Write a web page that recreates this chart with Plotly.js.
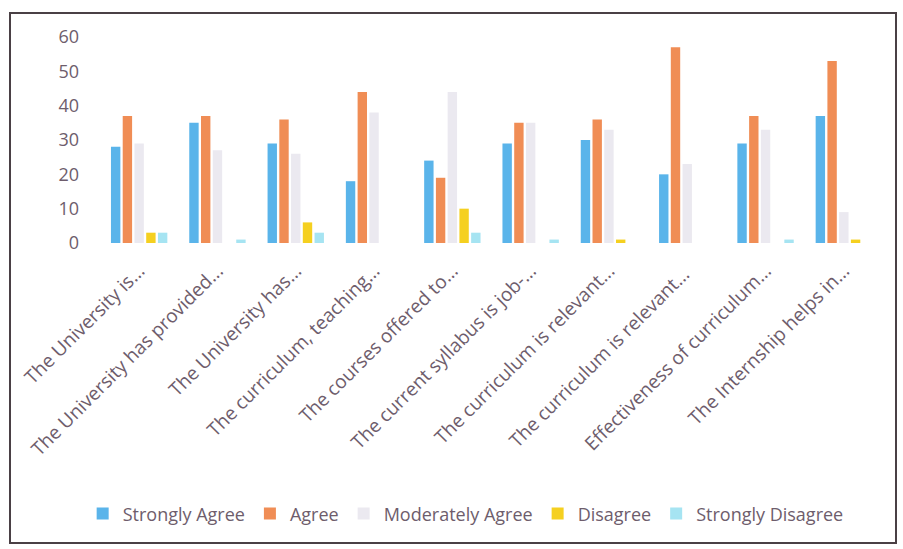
<!DOCTYPE html>
<html>
<head>
<meta charset="utf-8">
<script src="https://cdn.plot.ly/plotly-3.0.1.min.js"></script>
<style>
html,body{margin:0;padding:0;background:#fff;}
#wrap{position:relative;width:903px;height:549px;}
#chart{width:903px;height:549px;}
#frame{position:absolute;left:9px;top:12px;width:888px;height:532px;border:2px solid #4a4045;pointer-events:none;box-sizing:border-box;}
</style>
</head>
<body>
<div id="wrap"><div id="chart"></div><div id="frame"></div></div>
<script>
const categories = [
  "The University is...",
  "The University has provided...",
  "The University has...",
  "The curriculum, teaching...",
  "The courses offered to...",
  "The current syllabus is job-...",
  "The curriculum is relevant...",
  "The curriculum is relevant... ",
  "Effectiveness of curriculum...",
  "The Internship helps in..."
];
const seriesNames = ["Strongly Agree", "Agree", "Moderately Agree", "Disagree", "Strongly Disagree"];
const stronglyAgree    = [28, 35, 29, 18, 24, 29, 30, 20, 29, 37];
const agree            = [37, 37, 36, 44, 19, 35, 36, 57, 37, 53];
const moderatelyAgree  = [29, 27, 26, 38, 44, 35, 33, 23, 33, 9];
const disagree         = [3, 0, 6, 0, 10, 0, 1, 0, 0, 1];
const stronglyDisagree = [3, 1, 3, 0, 3, 1, 0, 0, 1, 0];
const yTicks = [0, 10, 20, 30, 40, 50, 60];

const colors = ["#5ab4ea", "#f08d55", "#ebe9f0", "#f5d020", "#a6e4f2"];
const seriesValues = [stronglyAgree, agree, moderatelyAgree, disagree, stronglyDisagree];

const traces = seriesValues.map((vals, i) => ({
  type: "bar",
  name: seriesNames[i],
  x: categories,
  y: vals,
  marker: {color: colors[i]},
  hoverinfo: "x+y+name"
}));

const txtColor = "#6e5d6c";
const layout = {
  width: 903, height: 549,
  margin: {l: 100, r: 20, t: 37, b: 306},
  paper_bgcolor: "#ffffff",
  plot_bgcolor: "#ffffff",
  barmode: "group",
  bargap: 0.25,
  bargroupgap: 0.2,
  font: {family: "'Open Sans', Lato, sans-serif", color: txtColor},
  showlegend: true,
  legend: {
    orientation: "h",
    x: 0.467, xanchor: "center",
    y: -1.315, yanchor: "middle",
    font: {size: 18, color: txtColor},
    itemwidth: 30,
    traceorder: "normal"
  },
  xaxis: {
    type: "category",
    tickangle: -45,
    tickfont: {size: 19, color: txtColor},
    showgrid: false, zeroline: false, showline: false,
    ticks: "", ticklabelstandoff: 12
  },
  yaxis: {
    range: [0, 60],
    tickvals: yTicks,
    tickfont: {size: 18, color: txtColor},
    showgrid: false, zeroline: false, showline: false,
    ticks: "", ticklabelstandoff: 20
  }
};

Plotly.newPlot("chart", traces, layout, {displayModeBar: false, staticPlot: true});
</script>
</body>
</html>
